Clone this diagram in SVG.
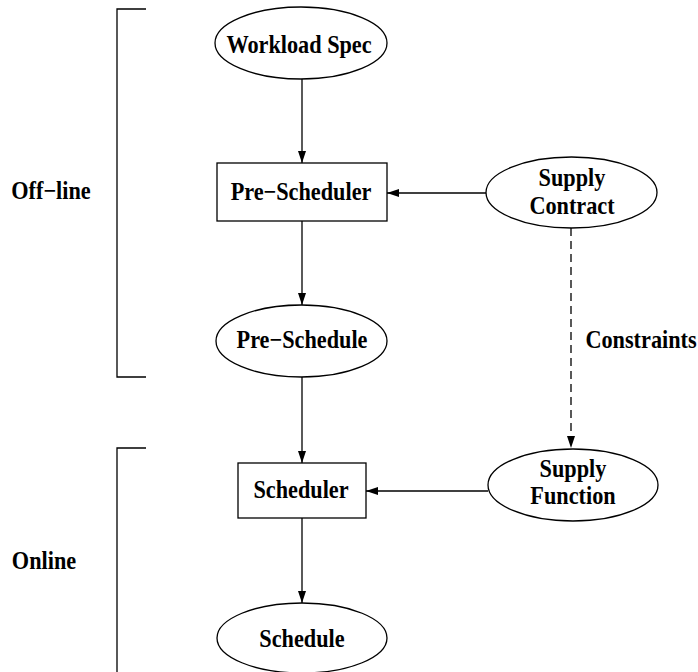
<svg xmlns="http://www.w3.org/2000/svg" width="698" height="672" viewBox="0 0 698 672">
<style>
.n{fill:#fff;stroke:#000;stroke-width:1.3}
.t{font-family:"Liberation Serif","Times New Roman",serif;font-weight:bold;font-size:25px;fill:#000;text-anchor:middle}
.c{fill:none;stroke:#000;stroke-width:1.3}
.d{stroke-dasharray:8 5}
</style>
<defs>
<marker id="ah" markerWidth="12" markerHeight="8" refX="12" refY="4" orient="auto" markerUnits="userSpaceOnUse">
<path d="M0,0 L12,4 L0,8 Z" fill="#000"/>
</marker>
</defs>
<g id="brackets" class="c">
<polyline points="146,9 117,9 117,377 146,377"/>
<polyline points="146,448 117,448 117,672"/>
</g>
<g id="label-offline"><text class="t" transform="translate(51,199) scale(0.89,1)">Off−line</text></g>
<g id="label-online"><text class="t" transform="translate(44,569) scale(0.89,1)">Online</text></g>
<g id="connectors">
<line class="c" x1="302" y1="79" x2="302" y2="163" marker-end="url(#ah)"/>
<line class="c" x1="302" y1="221" x2="302" y2="305" marker-end="url(#ah)"/>
<line class="c" x1="302" y1="377" x2="302" y2="463" marker-end="url(#ah)"/>
<line class="c" x1="302" y1="518" x2="302" y2="603" marker-end="url(#ah)"/>
<line class="c" x1="486" y1="193" x2="387" y2="193" marker-end="url(#ah)"/>
<line class="c" x1="488" y1="491" x2="366" y2="491" marker-end="url(#ah)"/>
<line class="c d" x1="571" y1="228" x2="571" y2="448" marker-end="url(#ah)"/>
<text class="t" transform="translate(641,348) scale(0.89,1)">Constraints</text>
</g>
<g id="workload-spec">
<ellipse class="n" cx="301" cy="43" rx="86" ry="36"/>
<text class="t" transform="translate(299,53) scale(0.89,1)">Workload Spec</text>
</g>
<g id="pre-scheduler">
<rect class="n" x="217" y="163" width="170" height="58"/>
<text class="t" transform="translate(301,200) scale(0.89,1)">Pre−Scheduler</text>
</g>
<g id="supply-contract">
<ellipse class="n" cx="571.5" cy="192.5" rx="85.5" ry="35.5"/>
<text class="t" transform="translate(572,186) scale(0.89,1)">Supply</text>
<text class="t" transform="translate(572,214) scale(0.89,1)">Contract</text>
</g>
<g id="pre-schedule">
<ellipse class="n" cx="301.5" cy="341" rx="85.5" ry="36"/>
<text class="t" transform="translate(302,348) scale(0.89,1)">Pre−Schedule</text>
</g>
<g id="scheduler">
<rect class="n" x="238" y="463" width="128" height="55"/>
<text class="t" transform="translate(301,498) scale(0.89,1)">Scheduler</text>
</g>
<g id="supply-function">
<ellipse class="n" cx="573" cy="485" rx="85" ry="36"/>
<text class="t" transform="translate(573,477) scale(0.89,1)">Supply</text>
<text class="t" transform="translate(573,504) scale(0.89,1)">Function</text>
</g>
<g id="schedule">
<ellipse class="n" cx="302" cy="638" rx="85" ry="35"/>
<text class="t" transform="translate(302,647) scale(0.89,1)">Schedule</text>
</g>
</svg>
